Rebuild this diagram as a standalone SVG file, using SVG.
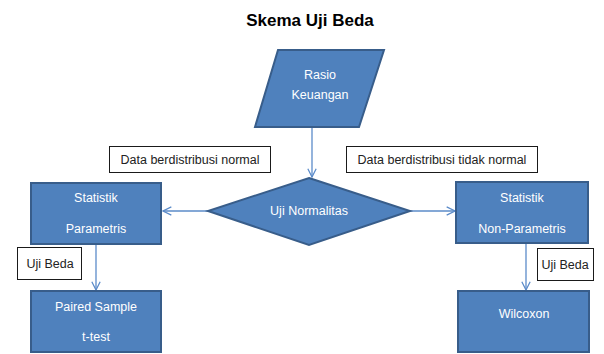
<svg xmlns="http://www.w3.org/2000/svg" width="604" height="354" viewBox="0 0 604 354">
  <style>
    .shape { fill: #4F81BD; stroke: #385D8A; stroke-width: 2; }
    .label { fill: #FFFFFF; stroke: #1A1A1A; stroke-width: 1; }
    .txt { font-family: "Liberation Sans", Arial, sans-serif; font-size: 12.5px; text-anchor: middle; }
    .w { fill: #FFFFFF; }
    .k { fill: #222222; }
    .title { font-family: "Liberation Sans", Arial, sans-serif; font-size: 17px; font-weight: bold; text-anchor: middle; fill: #000000; }
    .conn { stroke: #5B8BC9; stroke-width: 1.3; fill: none; }
  </style>
  <defs>
    <marker id="open" viewBox="0 0 12 12" refX="11" refY="6" markerWidth="10" markerHeight="10" markerUnits="userSpaceOnUse" orient="auto">
      <path d="M1,1 L11,6 L1,11" fill="none" stroke="#5B8BC9" stroke-width="1.5"/>
    </marker>
  </defs>
  <rect width="604" height="354" fill="#FFFFFF"/>

  <text class="title" x="310" y="26">Skema Uji Beda</text>

  <g id="connectors">
    <line class="conn" x1="312" y1="128" x2="312" y2="177" marker-end="url(#open)"/>
    <line class="conn" x1="208" y1="211" x2="163" y2="211" marker-end="url(#open)"/>
    <line class="conn" x1="410" y1="211" x2="455" y2="211" marker-end="url(#open)"/>
    <line class="conn" x1="96" y1="245" x2="96" y2="290" marker-end="url(#open)"/>
    <line class="conn" x1="526" y1="243" x2="526" y2="290" marker-end="url(#open)"/>
  </g>

  <g id="rasio-keuangan">
    <polygon class="shape" points="278,50 384,50 359,127 255,127"/>
    <text class="txt w" x="320" y="79">Rasio</text>
    <text class="txt w" x="320" y="99">Keuangan</text>
  </g>

  <g id="uji-normalitas">
    <polygon class="shape" points="309,178 410,211 309,245 208,211"/>
    <text class="txt w" x="309" y="215">Uji Normalitas</text>
  </g>

  <g id="label-normal">
    <rect class="label" x="109.5" y="146.5" width="161" height="26"/>
    <text class="txt k" x="190" y="164">Data berdistribusi normal</text>
  </g>

  <g id="label-tidak-normal">
    <rect class="label" x="346.5" y="146.5" width="191" height="26"/>
    <text class="txt k" x="442" y="164">Data berdistribusi tidak normal</text>
  </g>

  <g id="statistik-parametris">
    <rect class="shape" x="31" y="183" width="130" height="61"/>
    <text class="txt w" x="96" y="202">Statistik</text>
    <text class="txt w" x="96" y="233">Parametris</text>
  </g>

  <g id="statistik-non-parametris">
    <rect class="shape" x="456" y="182" width="132" height="61"/>
    <text class="txt w" x="522" y="202">Statistik</text>
    <text class="txt w" x="522" y="233">Non-Parametris</text>
  </g>

  <g id="label-uji-beda-kiri">
    <rect class="label" x="17.5" y="247.5" width="64" height="32"/>
    <text class="txt k" x="50" y="268">Uji Beda</text>
  </g>

  <g id="label-uji-beda-kanan">
    <rect class="label" x="537.5" y="248.5" width="56" height="32"/>
    <text class="txt k" x="565" y="269">Uji Beda</text>
  </g>

  <g id="paired-sample">
    <rect class="shape" x="31" y="291" width="130" height="61"/>
    <text class="txt w" x="96" y="311">Paired Sample</text>
    <text class="txt w" x="96" y="341">t-test</text>
  </g>

  <g id="wilcoxon">
    <rect class="shape" x="458" y="291" width="131" height="61"/>
    <text class="txt w" x="524" y="318">Wilcoxon</text>
  </g>
</svg>
